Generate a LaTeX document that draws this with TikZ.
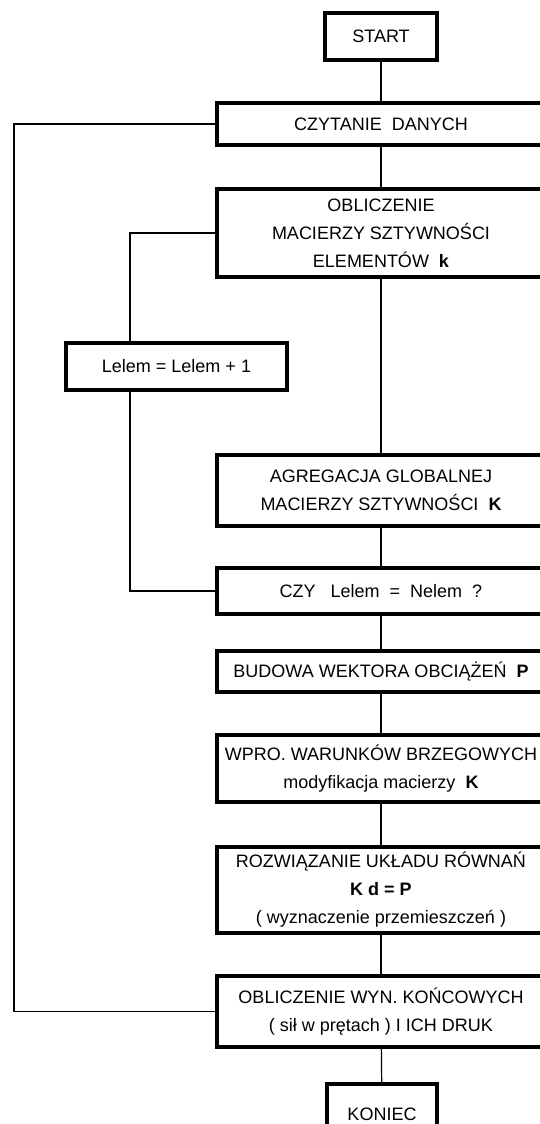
\documentclass[tikz,border=0pt]{standalone}
\usepackage{fontspec}
\setmainfont{Liberation Sans}
\usepackage{tikz}

\begin{document}
\begin{tikzpicture}[
    x=1pt, y=-1pt,
    block/.style={draw, rectangle, line width=3.5pt, minimum width=328pt, inner sep=0pt, align=center, font=\fontsize{18}{28}\selectfont},
    term/.style={block, minimum width=112pt, minimum height=47pt},
    link/.style={line width=1.2pt}
]
    \useasboundingbox (0,0) rectangle (539,1124);

    \node[term] (start) at (381,36.5) {START};
    \node[block, minimum height=42pt] (czyt) at (381,124) {CZYTANIE\ \ DANYCH};
    \node[block, minimum height=88pt] (obl) at (381,233) {OBLICZENIE\\MACIERZY SZTYWNOŚCI\\ELEMENTÓW\ \ \textbf{k}};
    \node[block, minimum width=221pt, minimum height=47pt] (lelem) at (176.5,366.5) {Lelem = Lelem + 1};
    \node[block, minimum height=71pt] (agr) at (381,490.5) {AGREGACJA GLOBALNEJ\\MACIERZY SZTYWNOŚCI\ \ \textbf{K}};
    \node[block, minimum height=46pt] (czy) at (381,591) {CZY\ \ \ Lelem\ \ =\ \ Nelem\ \ ?};
    \node[block, minimum height=41pt] (bud) at (381,671.5) {BUDOWA WEKTORA OBCIĄŻEŃ\ \ \textbf{P}};
    \node[block, minimum height=67pt] (wpro) at (381,768.5) {WPRO. WARUNKÓW BRZEGOWYCH\\modyfikacja macierzy\ \ \textbf{K}};
    \node[block, minimum height=86pt] (rozw) at (381,890) {ROZWIĄZANIE UKŁADU RÓWNAŃ\\\textbf{K d = P}\\( wyznaczenie przemieszczeń )};
    \node[block, minimum height=71pt] (wyn) at (381,1011.5) {OBLICZENIE WYN. KOŃCOWYCH\\( sił w prętach ) I ICH DRUK};
    \node[term, minimum width=110pt, minimum height=60pt] (koniec) at (382,1114) {KONIEC};

    \coordinate (outer) at (14,0);
    \coordinate (inner) at (130,0);

    \draw[link] (start) -- (czyt);
    \draw[link] (czyt) -- (obl);
    \draw[link] (obl) -- (agr);
    \draw[link] (agr) -- (czy);
    \draw[link] (czy) -- (bud);
    \draw[link] (bud) -- (wpro);
    \draw[link] (wpro) -- (rozw);
    \draw[link] (rozw) -- (wyn);
    \draw[link] (wyn) -- (koniec);

    % petla po elementach
    \draw[link] (obl.west) -| (lelem.north -| inner);
    \draw[link] (lelem.south -| inner) |- (czy.west);

    % petla glowna
    \draw[link] (czyt.west) -- (czyt.west -| outer) -- (wyn.west -| outer) -- (wyn.west);

\end{tikzpicture}
\end{document}
